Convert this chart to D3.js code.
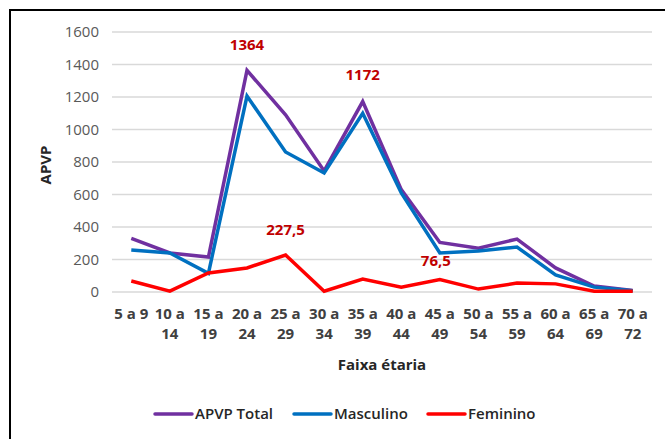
<!DOCTYPE html>
<html>
<head>
<meta charset="utf-8">
<script src="https://cdn.jsdelivr.net/npm/d3@7"></script>
<style>
  body { margin: 0; background: #fff; }
  svg { display: block; font-family: "Open Sans", "Noto Sans", sans-serif; }
</style>
</head>
<body>
<svg id="chart" width="665" height="439"></svg>
<script>
// Age groups (two-line labels)
var categories = ["5 a 9", "10 a 14", "15 a 19", "20 a 24", "25 a 29", "30 a 34", "35 a 39",
  "40 a 44", "45 a 49", "50 a 54", "55 a 59", "60 a 64", "65 a 69", "70 a 72"];
var catLine1 = ["5 a 9", "10 a", "15 a", "20 a", "25 a", "30 a", "35 a", "40 a", "45 a", "50 a", "55 a", "60 a", "65 a", "70 a"];
var catLine2 = ["", "14", "19", "24", "29", "34", "39", "44", "49", "54", "59", "64", "69", "72"];

// Series values
var total     = [330, 240, 215, 1364, 1090, 745, 1172, 630, 305, 270, 326, 148, 37, 10];
var masculino = [258, 240, 115, 1206, 862, 732, 1100, 610, 240, 252, 277, 105, 30, 8];
var feminino  = [68, 5, 117, 148, 227.5, 5, 80, 30, 76.5, 18, 55, 50, 5, 5];

var yTicks = [0, 200, 400, 600, 800, 1000, 1200, 1400, 1600];

// Highlighted values [series, index, text]
var annotations = [
  ["total", 3, "1364"],
  ["total", 6, "1172"],
  ["feminino", 4, "227,5"],
  ["feminino", 8, "76,5"]
];

var series = [
  { key: "total", name: "APVP Total", values: total, color: "#7030A0" },
  { key: "masculino", name: "Masculino", values: masculino, color: "#0070C0" },
  { key: "feminino", name: "Feminino", values: feminino, color: "#FF0000" }
];

var svg = d3.select("#chart");

// Outer frame
svg.append("rect")
  .attr("x", 10).attr("y", 10)
  .attr("width", 700).attr("height", 500)
  .style("fill", "none")
  .style("stroke", "#000")
  .style("stroke-width", 2);

var m = { left: 112, right: 13, top: 32, bottom: 147 };
var w = 665 - m.left - m.right;
var h = 439 - m.top - m.bottom;

var x = d3.scaleBand().domain(categories).range([0, w]);
var y = d3.scaleLinear().domain([0, 1600]).range([h, 0]);

var g = svg.append("g").attr("transform", "translate(" + m.left + "," + m.top + ")");

// Gridlines
g.append("g").selectAll("line")
  .data(yTicks)
  .enter().append("line")
    .attr("x1", 0).attr("x2", w)
    .attr("y1", function(d) { return y(d); })
    .attr("y2", function(d) { return y(d); })
    .style("stroke", "#d9d9d9")
    .style("stroke-width", 1.5);

// Y axis labels
var yAxis = g.append("g")
  .call(d3.axisLeft(y).tickValues(yTicks).tickFormat(d3.format("d")).tickSize(0).tickPadding(13));
yAxis.select(".domain").remove();
yAxis.selectAll("text")
  .style("font-size", "15px")
  .style("fill", "#595959")
  .style("font-family", "'Open Sans', sans-serif");

// X labels
var xl = g.append("g").attr("transform", "translate(0," + h + ")");
categories.forEach(function(c, i) {
  var cx = x(c) + x.bandwidth() / 2;
  var t = xl.append("text")
    .attr("x", cx)
    .attr("y", 27)
    .style("text-anchor", "middle")
    .style("font-size", "15px")
    .style("font-weight", "700")
    .style("fill", "#404040");
  t.append("tspan").attr("x", cx).attr("dy", 0).text(catLine1[i]);
  if (catLine2[i]) t.append("tspan").attr("x", cx).attr("dy", 20).text(catLine2[i]);
});

// Axis titles
svg.append("text")
  .attr("x", 382).attr("y", 370)
  .style("text-anchor", "middle")
  .style("font-size", "15px")
  .style("font-weight", "700")
  .style("fill", "#262626")
  .text("Faixa étaria");

svg.append("text")
  .attr("transform", "translate(51,165) rotate(-90)")
  .style("text-anchor", "middle")
  .style("font-size", "15px")
  .style("font-weight", "700")
  .style("fill", "#262626")
  .text("APVP");

// Lines
var line = d3.line()
  .x(function(d, i) { return x(categories[i]) + x.bandwidth() / 2; })
  .y(function(d) { return y(d); });

series.forEach(function(s) {
  g.append("path")
    .datum(s.values)
    .attr("d", line)
    .style("fill", "none")
    .style("stroke", s.color)
    .style("stroke-width", 3.5)
    .style("stroke-linejoin", "miter");
});

// Annotations
var offsets = { "1364": [0, -20], "1172": [0, -22], "227,5": [0, -20], "76,5": [-4, -14] };
annotations.forEach(function(a) {
  var s = series.filter(function(d) { return d.key == a[0]; })[0];
  var o = offsets[a[2]];
  g.append("text")
    .attr("x", x(categories[a[1]]) + x.bandwidth() / 2 + o[0])
    .attr("y", y(s.values[a[1]]) + o[1])
    .style("text-anchor", "middle")
    .style("font-size", "15px")
    .style("font-weight", "700")
    .style("fill", "#C00000")
    .text(a[2]);
});

// Legend
var legendX = [155, 294, 428];
var lg = svg.append("g");
series.forEach(function(s, i) {
  lg.append("line")
    .attr("x1", legendX[i]).attr("x2", legendX[i] + 37)
    .attr("y1", 414).attr("y2", 414)
    .style("stroke", s.color)
    .style("stroke-width", 3.5)
    .style("stroke-linecap", "round");
  lg.append("text")
    .attr("x", legendX[i] + 40)
    .attr("y", 419)
    .style("font-size", "15px")
    .style("font-weight", "600")
    .style("fill", "#262626")
    .text(s.name);
});
</script>
</body>
</html>
